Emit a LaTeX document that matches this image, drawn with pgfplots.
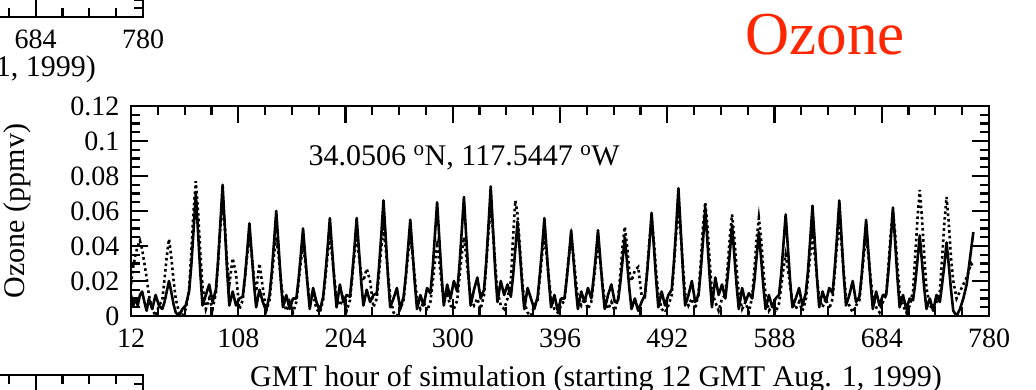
\documentclass[border=0pt]{standalone}
\usepackage{fontspec}
\setmainfont{Liberation Serif}
\usepackage{pgfplots}
\pgfplotsset{compat=1.18}
\usepackage{pgfplotstable}
\definecolor{ozred}{RGB}{255,38,0}

\pgfplotstableread{
h s d
12 0.012 0.018
14 0.006 0.028
16 0.010 0.035
18 0.006 0.040
20 0.012 0.043
22 0.014 0.038
24 0.008 0.030
26 0.003 0.022
28 0.010 0.012
31 0.004 0.004
34 0.012 0.000
37 0.006 0.006
40 0.004 0.009
42 0.008 0.021
44 0.014 0.034
46 0.020 0.044
48 0.014 0.034
50 0.007 0.021
52 0.002 0.010
55 0.000 0.002
58 0.004 0.000
61 0.006 0.004
64 0.014 0.015
66 0.029 0.037
68 0.049 0.060
70 0.070 0.077
72 0.048 0.060
74 0.025 0.037
76 0.006 0.017
79 0.012 0.004
82 0.018 0.010
85 0.008 0.004
88 0.015 0.013
90 0.032 0.031
92 0.053 0.051
94 0.075 0.065
96 0.051 0.051
98 0.026 0.031
100 0.006 0.018
103 0.014 0.033
106 0.006 0.024
109 0.010 0.004
112 0.011 0.009
114 0.022 0.022
116 0.037 0.035
118 0.053 0.045
120 0.036 0.035
122 0.019 0.022
124 0.005 0.014
127 0.015 0.030
130 0.008 0.016
133 0.003 0.003
136 0.012 0.009
138 0.025 0.022
140 0.042 0.035
142 0.060 0.045
144 0.041 0.035
146 0.021 0.022
148 0.005 0.010
151 0.012 0.003
154 0.004 0.008
157 0.010 0.002
160 0.010 0.008
162 0.021 0.019
164 0.035 0.031
166 0.050 0.040
168 0.034 0.031
170 0.018 0.019
172 0.004 0.009
175 0.016 0.012
178 0.008 0.004
181 0.003 0.002
184 0.011 0.009
186 0.024 0.022
188 0.039 0.035
190 0.056 0.045
192 0.038 0.035
194 0.020 0.022
196 0.005 0.010
199 0.018 0.006
202 0.008 0.010
205 0.012 0.003
208 0.011 0.009
210 0.024 0.022
212 0.039 0.035
214 0.056 0.045
216 0.038 0.035
218 0.020 0.024
220 0.006 0.020
223 0.015 0.027
226 0.008 0.020
229 0.012 0.005
232 0.013 0.010
234 0.028 0.024
236 0.046 0.039
238 0.066 0.050
240 0.045 0.039
242 0.023 0.024
244 0.005 0.011
247 0.010 0.002
250 0.016 0.000
253 0.004 0.004
256 0.011 0.009
258 0.023 0.022
260 0.039 0.035
262 0.055 0.045
264 0.037 0.035
266 0.019 0.022
268 0.004 0.010
271 0.012 0.004
274 0.006 0.008
277 0.016 0.003
280 0.013 0.008
282 0.027 0.019
284 0.046 0.031
286 0.065 0.040
288 0.044 0.031
290 0.023 0.019
292 0.006 0.009
295 0.018 0.012
298 0.010 0.006
301 0.020 0.004
304 0.014 0.009
306 0.029 0.022
308 0.048 0.035
310 0.068 0.045
312 0.046 0.035
314 0.024 0.022
316 0.006 0.010
319 0.015 0.006
322 0.022 0.010
325 0.010 0.004
328 0.015 0.012
330 0.031 0.030
332 0.052 0.048
334 0.074 0.062
336 0.050 0.048
338 0.026 0.030
340 0.008 0.014
343 0.020 0.006
346 0.012 0.004
349 0.018 0.010
352 0.011 0.020
354 0.023 0.045
356 0.038 0.066
358 0.054 0.058
360 0.037 0.040
362 0.019 0.022
364 0.004 0.008
367 0.016 0.002
370 0.010 0.000
373 0.004 0.006
376 0.011 0.009
378 0.024 0.022
380 0.039 0.035
382 0.056 0.045
384 0.038 0.035
386 0.020 0.022
388 0.005 0.010
391 0.012 0.004
394 0.003 0.002
397 0.010 0.006
400 0.010 0.009
402 0.021 0.022
404 0.034 0.035
406 0.049 0.045
408 0.033 0.035
410 0.017 0.022
412 0.004 0.010
415 0.014 0.006
418 0.008 0.010
421 0.016 0.004
424 0.010 0.008
426 0.021 0.019
428 0.034 0.031
430 0.049 0.040
432 0.033 0.031
434 0.017 0.019
436 0.004 0.009
439 0.012 0.004
442 0.018 0.008
445 0.008 0.003
448 0.009 0.010
450 0.019 0.024
452 0.032 0.040
454 0.045 0.051
456 0.031 0.040
458 0.016 0.026
460 0.004 0.020
463 0.010 0.026
466 0.003 0.028
469 0.008 0.012
472 0.012 0.011
474 0.025 0.026
476 0.041 0.043
478 0.059 0.055
480 0.040 0.043
482 0.021 0.026
484 0.005 0.012
487 0.014 0.004
490 0.006 0.002
493 0.012 0.006
496 0.015 0.012
498 0.031 0.029
500 0.051 0.047
502 0.073 0.060
504 0.050 0.047
506 0.026 0.029
508 0.006 0.013
511 0.012 0.006
514 0.020 0.010
517 0.008 0.004
520 0.012 0.013
522 0.026 0.031
524 0.043 0.051
526 0.062 0.065
528 0.042 0.051
530 0.022 0.031
532 0.005 0.014
535 0.022 0.008
538 0.012 0.003
541 0.018 0.010
544 0.010 0.012
546 0.022 0.028
548 0.036 0.045
550 0.052 0.058
552 0.035 0.045
554 0.018 0.028
556 0.004 0.013
559 0.016 0.004
562 0.008 0.008
565 0.013 0.002
568 0.010 0.011
570 0.020 0.027
572 0.034 0.044
574 0.048 0.056
576 0.033 0.044
578 0.017 0.027
580 0.004 0.012
583 0.012 0.003
586 0.005 0.006
589 0.010 0.002
592 0.012 0.007
594 0.024 0.017
596 0.041 0.027
598 0.058 0.035
600 0.039 0.027
602 0.020 0.017
604 0.005 0.008
607 0.010 0.004
610 0.016 0.008
613 0.006 0.003
616 0.013 0.009
618 0.026 0.022
620 0.044 0.035
622 0.063 0.045
624 0.043 0.035
626 0.022 0.022
628 0.005 0.010
631 0.014 0.005
634 0.008 0.010
637 0.016 0.004
640 0.013 0.010
642 0.028 0.025
644 0.046 0.041
646 0.066 0.052
648 0.045 0.041
650 0.023 0.025
652 0.006 0.011
655 0.012 0.006
658 0.020 0.002
661 0.008 0.006
664 0.011 0.009
666 0.023 0.022
668 0.039 0.035
670 0.055 0.045
672 0.037 0.035
674 0.019 0.022
676 0.004 0.010
679 0.014 0.005
682 0.006 0.002
685 0.012 0.008
688 0.012 0.012
690 0.026 0.029
692 0.043 0.047
694 0.062 0.060
696 0.042 0.047
698 0.022 0.029
700 0.005 0.013
703 0.012 0.006
706 0.004 0.002
709 0.010 0.006
712 0.009 0.014
714 0.019 0.035
716 0.032 0.056
718 0.046 0.072
720 0.031 0.056
722 0.016 0.035
724 0.004 0.016
727 0.010 0.006
730 0.003 0.004
733 0.012 0.008
736 0.008 0.014
738 0.018 0.033
740 0.029 0.053
742 0.042 0.068
744 0.029 0.053
746 0.015 0.033
748 0.003 0.020
751 0.000 0.010
754 0.004 0.014
757 0.010 0.018
760 0.018 0.022
762 0.028 0.026
764 0.038 0.030
766 0.048 0.028
}\ozdata

\pgfplotsset{
  panel/.style={
    scale only axis, width=858pt, height=210pt,
    xmin=12, xmax=780, ymin=0, ymax=0.12,
    xtick={12,108,204,300,396,492,588,684,780},
    xticklabels={12,108,204,300,396,492,588,684,780},
    ytick={0,0.02,0.04,0.06,0.08,0.1,0.12},
    yticklabels={0,0.02,0.04,0.06,0.08,0.1,0.12},
    minor x tick num=3, minor y tick num=3,
    tick align=inside, major tick length=17pt, minor tick length=9pt,
    axis line style={line width=2.6pt},
    every tick/.style={black, line width=2.2pt},
    tick label style={font=\fontsize{28}{32}\selectfont},
    xticklabel style={yshift=-9pt},
    yticklabel style={xshift=-8pt},
    label style={font=\fontsize{30}{34}\selectfont},
    xlabel={GMT hour of simulation (starting 12 GMT Aug. 1, 1999)},
    xlabel style={at={(axis description cs:0.542,-0.30)}, anchor=center},
  }
}

\begin{document}
\begin{tikzpicture}[x=1pt,y=1pt]
\useasboundingbox (0,0) rectangle (1036,389);
\clip (0,0) rectangle (1036,389);
% neighbouring panel above (cropped)
\begin{axis}[panel, at={(143pt,372pt)}, anchor=south east, clip=false,
    xlabel style={at={(axis description cs:0.542,-0.25)}, anchor=center}]
\addplot[draw=none] coordinates {(12,0) (780,0.12)};
\end{axis}
% neighbouring panel below (cropped)
\begin{axis}[panel, at={(143pt,14pt)}, anchor=north east, clip=false]
\addplot[draw=none] coordinates {(12,0) (780,0.12)};
\end{axis}
% main panel
\begin{axis}[panel, at={(131pt,73pt)}, anchor=south west,
    ylabel={Ozone (ppmv)},
    ylabel style={at={(axis description cs:-0.132,0.5)}, anchor=center},
  ]
\addplot[black, line width=2.6pt, line join=round] table[x=h,y=s]{\ozdata};
\addplot[black, line width=2.6pt, dash pattern=on 2.6pt off 3pt] table[x=h,y=d]{\ozdata};
\node[anchor=base west, font=\fontsize{30}{34}\selectfont] at (rel axis cs:0.203,0.719)
  {34.0506 \textsuperscript{o}N, 117.5447 \textsuperscript{o}W};
\end{axis}
\node[anchor=base west, text=ozred, font=\fontsize{61}{70}\selectfont] at (742,334) {Ozone};
\end{tikzpicture}
\end{document}
